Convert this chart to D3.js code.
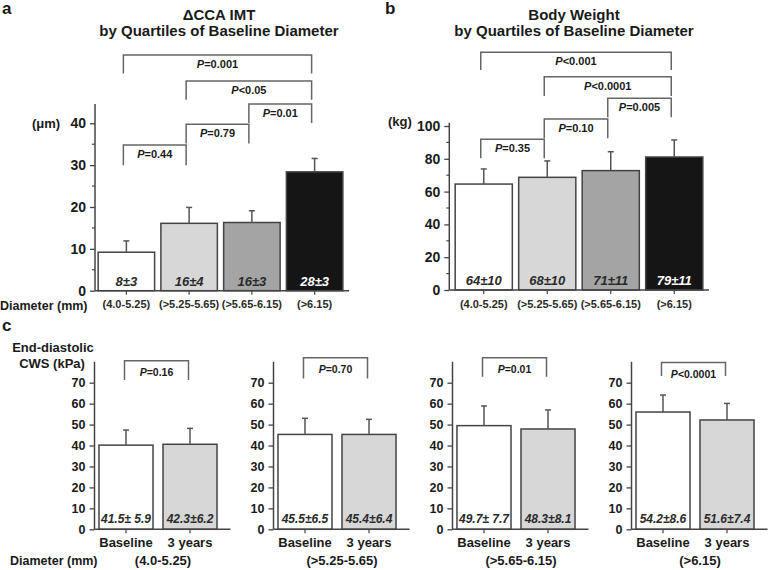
<!DOCTYPE html>
<html>
<head>
<meta charset="utf-8">
<script src="https://cdn.jsdelivr.net/npm/d3@7"></script>
<style>
    body { margin: 0; background: #fff; }
    svg text { font-family: "Liberation Sans", Arial, sans-serif; font-weight: bold; fill: #1a1a1a; }
</style>
</head>
<body>
<svg id="chart" width="774" height="570"></svg>
<script>
// Quartiles of baseline diameter (shared by every panel)
const quartiles = ['(4.0-5.25)', '(>5.25-5.65)', '(>5.65-6.15)', '(>6.15)'];
const quartileFill = ['#ffffff', '#d7d7d7', '#a4a4a4', '#151515'];

// a: delta CCA IMT (um)
const imtMean = [9.2, 16.1, 16.3, 28.4];
const imtSd = [2.7, 3.8, 2.8, 3.2];
const imtText = ['8±3', '16±4', '16±3', '28±3'];
const imtTicks = [0, 10, 20, 30, 40];
const imtMinor = [5, 15, 25, 35];
const imtPairs = [
    { from: 0, to: 3, p: '=0.001', top: 56.3, bottom: 51.9 },
    { from: 1, to: 3, p: '<0.05', top: 50.1, bottom: 45.6 },
    { from: 2, to: 3, p: '=0.01', top: 44.6, bottom: 40.1 },
    { from: 1, to: 2, p: '=0.79', top: 39.8, bottom: 35.2 },
    { from: 0, to: 1, p: '=0.44', top: 34.8, bottom: 30.0 },
];

// b: body weight (kg)
const weightMean = [64.6, 68.7, 72.8, 81.1];
const weightSd = [9.2, 10.0, 11.5, 10.4];
const weightText = ['64±10', '68±10', '71±11', '79±11'];
const weightTicks = [0, 20, 40, 60, 80, 100];
const weightMinor = [10, 30, 50, 70, 90];
const weightPairs = [
    { from: 0, to: 3, p: '<0.001', top: 144.9, bottom: 134.1 },
    { from: 1, to: 3, p: '<0.0001', top: 130.1, bottom: 118.3 },
    { from: 2, to: 3, p: '=0.005', top: 116.9, bottom: 105.3 },
    { from: 1, to: 2, p: '=0.10', top: 104.3, bottom: 92.5 },
    { from: 0, to: 1, p: '=0.35', top: 91.9, bottom: 80.3 },
];

// c: end-diastolic CWS (kPa), baseline vs 3 years, per quartile
const visits = ['Baseline', '3 years'];
const visitFill = ['#ffffff', '#d7d7d7'];
const cwsBaseline = [40.2, 45.3, 49.5, 56.0];
const cwsBaselineSd = [7.2, 7.7, 9.4, 8.1];
const cwsYear3 = [40.6, 45.3, 47.9, 52.2];
const cwsYear3Sd = [7.6, 7.2, 9.1, 7.9];
const cwsBaselineText = ['41.5± 5.9', '45.5±6.5', '49.7± 7.7', '54.2±8.6'];
const cwsYear3Text = ['42.3±6.2', '45.4±6.4', '48.3±8.1', '51.6±7.4'];
const cwsP = ['=0.16', '=0.70', '=0.01', '<0.0001'];
const cwsPairTop = [80.5, 81.9, 81.9, 79.7];
const cwsPairBottom = [71.3, 72.0, 72.8, 73.2];
const cwsTicks = [0, 10, 20, 30, 40, 50, 60, 70];

const svg = d3.select('#chart');
const lineColor = '#444';
const bracketColor = '#666';

// P label: italic P followed by the value
function pLabel(sel, text, size) {
    sel.attr('text-anchor', 'middle').style('font-size', size + 'px');
    sel.append('tspan').style('font-style', 'italic').text('P');
    sel.append('tspan').text(text);
}

// Left axis with manual axis line running up to yTop
function leftAxis(g, y, x0, ticks, minor, yTop, fontSize) {
    let ax = g.append('g')
        .attr('transform', 'translate(' + x0 + ',0)')
        .call(d3.axisLeft(y).tickValues(ticks).tickSize(5).tickPadding(4).tickFormat(d3.format('d')));
    ax.select('.domain').remove();
    ax.selectAll('line').attr('stroke', lineColor).attr('stroke-width', 1.3);
    ax.selectAll('text').style('font-size', fontSize + 'px').attr('fill', '#1a1a1a');
    g.selectAll(null)
        .data(minor)
        .enter()
        .append('line')
        .attr('x1', x0 - 3).attr('x2', x0)
        .attr('y1', (d) => y(d)).attr('y2', (d) => y(d))
        .attr('stroke', lineColor).attr('stroke-width', 1.2);
    g.append('line')
        .attr('x1', x0).attr('x2', x0)
        .attr('y1', y(0)).attr('y2', y(yTop))
        .attr('stroke', lineColor).attr('stroke-width', 1.5);
}

function bottomLine(g, x, y, x0, x1) {
    let ax = g.append('g')
        .attr('transform', 'translate(0,' + y(0) + ')')
        .call(d3.axisBottom(x).tickSize(4).tickFormat(''));
    ax.select('.domain').remove();
    ax.selectAll('line').attr('stroke', lineColor).attr('stroke-width', 1.2);
    g.append('line')
        .attr('x1', x0).attr('x2', x1)
        .attr('y1', y(0)).attr('y2', y(0))
        .attr('stroke', lineColor).attr('stroke-width', 1.5);
}

function drawBars(g, rows, x, y, labelSize, labelOffset) {
    // Bars
    g.selectAll(null)
        .data(rows)
        .enter()
        .append('rect')
        .attr('x', (d) => x(d.key))
        .attr('width', x.bandwidth())
        .attr('y', (d) => y(d.mean))
        .attr('height', (d) => y(0) - y(d.mean))
        .attr('fill', (d) => d.fill)
        .attr('stroke', lineColor)
        .attr('stroke-width', 1.5);

    // Error bars
    let err = g.selectAll(null).data(rows).enter().append('g');
    err.append('line')
        .attr('x1', (d) => x(d.key) + x.bandwidth() / 2)
        .attr('x2', (d) => x(d.key) + x.bandwidth() / 2)
        .attr('y1', (d) => y(d.mean))
        .attr('y2', (d) => y(d.mean + d.sd))
        .attr('stroke', '#555').attr('stroke-width', 1.5);
    err.append('line')
        .attr('x1', (d) => x(d.key) + x.bandwidth() / 2 - 3)
        .attr('x2', (d) => x(d.key) + x.bandwidth() / 2 + 3)
        .attr('y1', (d) => y(d.mean + d.sd))
        .attr('y2', (d) => y(d.mean + d.sd))
        .attr('stroke', '#555').attr('stroke-width', 1.5);

    // Mean +- SD text inside bars
    g.selectAll(null)
        .data(rows)
        .enter()
        .append('text')
        .attr('x', (d) => x(d.key) + x.bandwidth() / 2)
        .attr('y', y(0) - labelOffset)
        .attr('text-anchor', 'middle')
        .style('font-style', 'italic')
        .style('font-size', labelSize + 'px')
        .style('fill', (d) => (d.fill === '#151515' ? '#ffffff' : '#2a2a2a'))
        .text((d) => d.text);
}

function drawBrackets(g, pairs, xc, y, textDrop, size) {
    pairs.forEach((d) => {
        let xa = xc(d.from);
        let xb = xc(d.to);
        g.append('path')
            .attr('d', 'M' + xa + ',' + y(d.bottom) + 'V' + y(d.top) + 'H' + xb + 'V' + y(d.bottom))
            .attr('fill', 'none')
            .attr('stroke', bracketColor)
            .attr('stroke-width', 1.5);
        g.append('text')
            .attr('x', (xa + xb) / 2)
            .attr('y', y(d.top) + textDrop)
            .call(pLabel, d.p, size);
    });
}

function quartilePanel(cfg) {
    let g = svg.append('g');
    let x = d3.scaleBand().domain(quartiles).range(cfg.xRange).paddingInner(0.1).paddingOuter(0.05);
    let y = cfg.y;
    let xc = (i) => x(quartiles[i]) + x.bandwidth() / 2 - 3;

    let rows = quartiles.map((q, i) => ({
        key: q, mean: cfg.mean[i], sd: cfg.sd[i], text: cfg.text[i], fill: quartileFill[i],
    }));

    leftAxis(g, y, cfg.axisX, cfg.ticks, cfg.minor, cfg.yTop, 14);
    drawBars(g, rows, x, y, 13, 5);
    bottomLine(g, x, y, cfg.axisX, cfg.xRange[1] + 3);
    drawBrackets(g, cfg.pairs, xc, y, 13, 11);

    // Category labels
    g.selectAll(null)
        .data(quartiles)
        .enter()
        .append('text')
        .attr('x', (d) => x(d) + x.bandwidth() / 2)
        .attr('y', 308)
        .attr('text-anchor', 'middle')
        .style('font-size', '11px')
        .style('fill', '#2a2a2a')
        .text((d) => d);

    // Titles
    g.append('text').attr('x', cfg.titleX).attr('y', 20).attr('text-anchor', 'middle')
        .style('font-size', '15px').text(cfg.title);
    g.append('text').attr('x', cfg.titleX).attr('y', 36).attr('text-anchor', 'middle')
        .style('font-size', '15px').text('by Quartiles of Baseline Diameter');
    g.append('text').attr('x', cfg.letterX).attr('y', 14).style('font-size', '17px').text(cfg.letter);
    g.append('text').attr('x', cfg.unitX).attr('y', cfg.unitY).style('font-size', '13px').text(cfg.unit);
}

quartilePanel({
    letter: 'a', letterX: 2, title: 'ΔCCA IMT', titleX: 219,
    unit: '(μm)', unitX: 32, unitY: 128,
    axisX: 95, xRange: [95, 346],
    y: d3.scaleLinear().domain([0, 40]).range([290.7, 123.3]), yTop: 44.6,
    mean: imtMean, sd: imtSd, text: imtText, ticks: imtTicks, minor: imtMinor, pairs: imtPairs,
});

quartilePanel({
    letter: 'b', letterX: 385, title: 'Body Weight', titleX: 574,
    unit: '(kg)', unitX: 388, unitY: 126,
    axisX: 449.3, xRange: [452, 706],
    y: d3.scaleLinear().domain([0, 100]).range([290, 126]), yTop: 102,
    mean: weightMean, sd: weightSd, text: weightText, ticks: weightTicks, minor: weightMinor, pairs: weightPairs,
});

svg.append('text').attr('x', 0).attr('y', 310).style('font-size', '12.5px').text('Diameter (mm)');

// c: four small baseline vs 3-year panels
const yC = d3.scaleLinear().domain([0, 70]).range([529.3, 382.7]);
quartiles.forEach((q, i) => {
    let g = svg.append('g');
    let axisX = 94.5 + i * 179;
    let x = d3.scaleBand().domain(visits).range([axisX, axisX + 127]).paddingInner(0.156).paddingOuter(0.07);
    let xc = (j) => x(visits[j]) + x.bandwidth() / 2 - 1.5;
    let rows = [
        { key: visits[0], mean: cwsBaseline[i], sd: cwsBaselineSd[i], text: cwsBaselineText[i], fill: visitFill[0] },
        { key: visits[1], mean: cwsYear3[i], sd: cwsYear3Sd[i], text: cwsYear3Text[i], fill: visitFill[1] },
    ];

    leftAxis(g, yC, axisX, cwsTicks, [], 80, 12.5);
    drawBars(g, rows, x, yC, 12, 6);
    bottomLine(g, x, yC, axisX, Math.min(axisX + 136, 774));
    drawBrackets(g, [{ from: 0, to: 1, p: cwsP[i], top: cwsPairTop[i], bottom: cwsPairBottom[i] }], xc, yC, 15.5, 10.5);

    g.selectAll(null)
        .data(visits)
        .enter()
        .append('text')
        .attr('x', (d) => x(d) + x.bandwidth() / 2)
        .attr('y', 547)
        .attr('text-anchor', 'middle')
        .style('font-size', '13px')
        .text((d) => d);
    g.append('text')
        .attr('x', (x(visits[0]) + x(visits[1]) + x.bandwidth()) / 2 + 5)
        .attr('y', 565)
        .attr('text-anchor', 'middle')
        .style('font-size', '13px')
        .text(q);
});

svg.append('text').attr('x', 2).attr('y', 331).style('font-size', '17px').text('c');
svg.append('text').attr('x', 53).attr('y', 351.5).attr('text-anchor', 'middle').style('font-size', '13px').text('End-diastolic');
svg.append('text').attr('x', 52).attr('y', 368).attr('text-anchor', 'middle').style('font-size', '13px').text('CWS (kPa)');
svg.append('text').attr('x', 10).attr('y', 565).style('font-size', '12.5px').text('Diameter (mm)');
</script>
</body>
</html>
